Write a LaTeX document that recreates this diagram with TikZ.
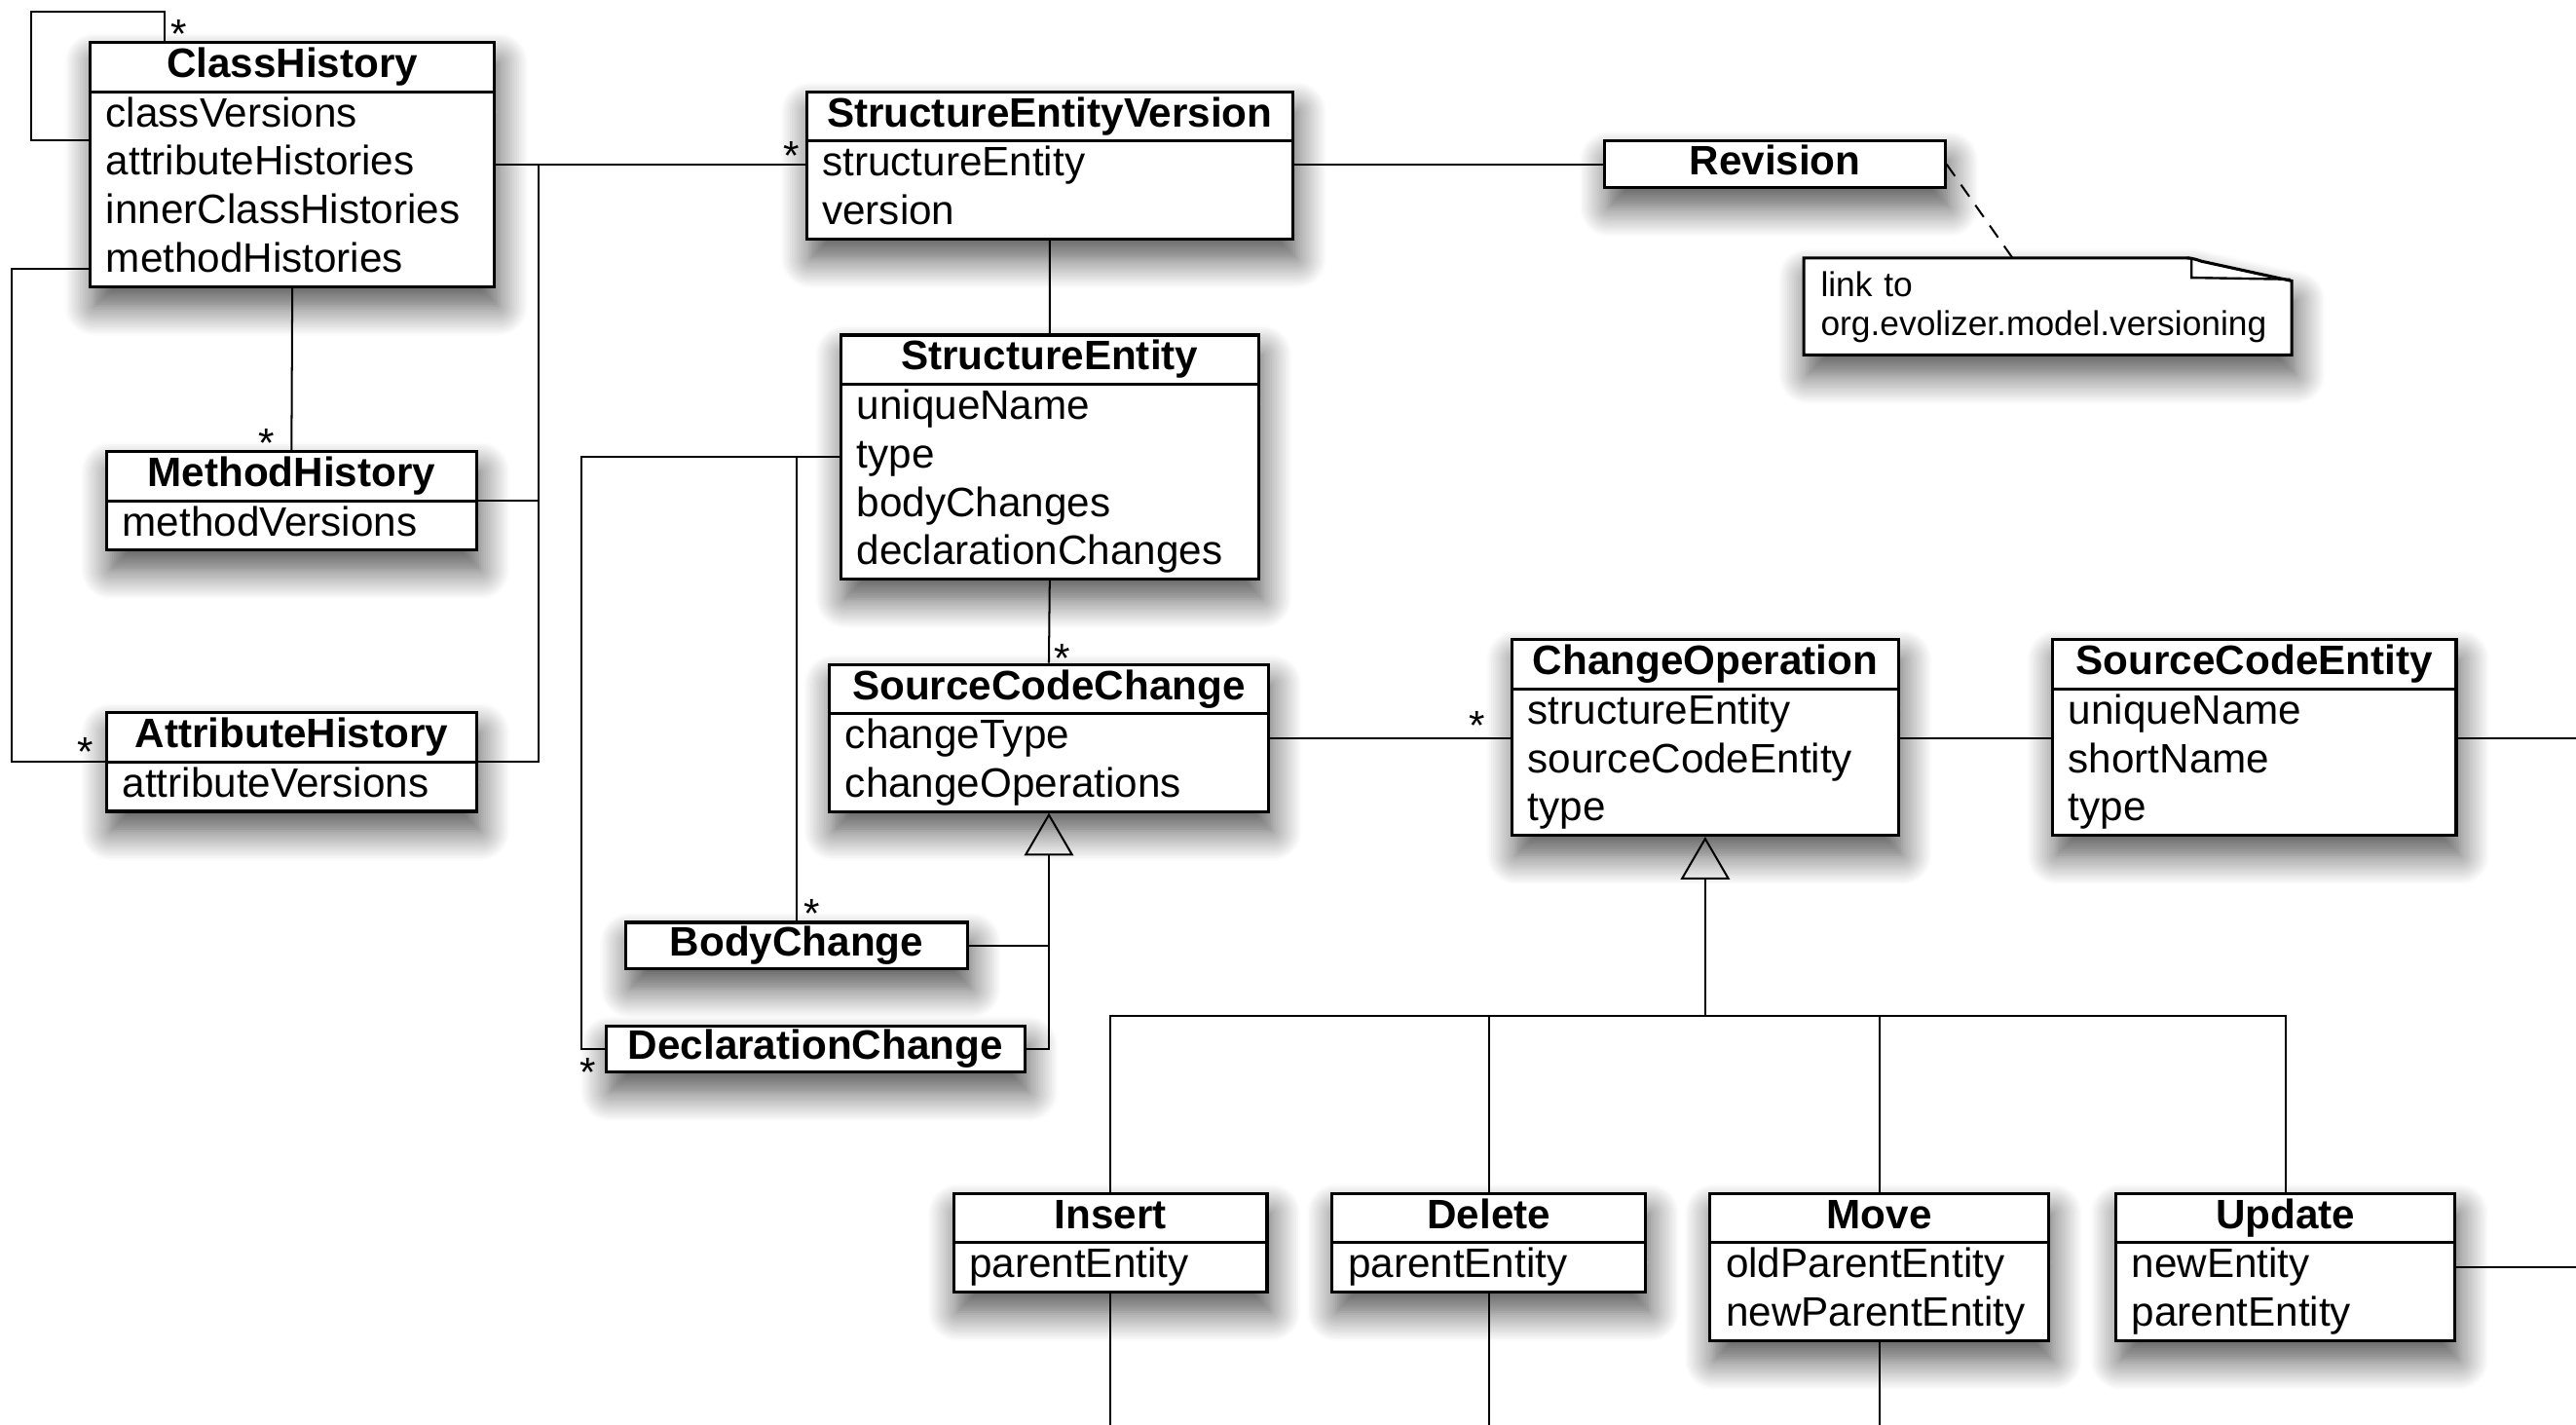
\documentclass[tikz,border=0pt]{standalone}
\usepackage{fontspec}
\setmainfont{Liberation Sans}
\usepackage{tikz}
\usetikzlibrary{arrows.meta, positioning, calc, shapes.multipart, shadows.blur}
\newcommand{\rowstrut}{\rule[-5.5pt]{0pt}{20pt}}
\newcommand{\cname}[1]{\hfill\textbf{#1}\rowstrut\hfill\null}
\tikzset{
  umlshadow/.style={blur shadow={shadow xshift=0.06cm, shadow yshift=-0.3cm,
      shadow blur radius=0.45cm, shadow blur steps=14, shadow opacity=70}},
  cls/.style={rectangle split, rectangle split parts=2, draw, fill=white,
      line width=1.3pt, inner xsep=0.24cm, inner ysep=0pt, align=left,
      anchor=north west, umlshadow},
  namebox/.style={draw, fill=white, line width=1.3pt, inner xsep=0.24cm,
      inner ysep=0pt, align=center, anchor=north west, umlshadow},
  notebox/.style={draw, fill=white, line width=1.3pt, umlshadow},
  notetext/.style={anchor=north west, minimum width=7.425cm, minimum height=1.475cm,
      text width=6.925cm, inner xsep=0.25cm, align=left,
      font=\fontsize{14.9}{16.8}\selectfont},
  assoc/.style={line width=0.85pt},
  inherit/.style={assoc, -{Triangle[open, length=0.65cm, width=0.75cm]}},
  notelink/.style={line width=0.85pt, dash pattern=on 0.22cm off 0.16cm},
  mult/.style={inner sep=0pt, anchor=north},
}
\begin{document}
\begin{tikzpicture}[x=0.025cm, y=-0.025cm,
    every node/.style={font=\fontsize{17.8}{21}\selectfont}]
  \useasboundingbox (0,0) rectangle (1568,867);
  \coordinate (rightedge) at (1568,0);
  \coordinate (bottomedge) at (0,867);

  % history side
  \node[cls, text width=5.67cm] (ch) at (54,25) {\cname{ClassHistory}%
    \nodepart{two}\rowstrut classVersions\\attributeHistories\\innerClassHistories\\methodHistories\rowstrut};
  \node[cls, text width=5.145cm] (mh) at (64,274) {\cname{MethodHistory}%
    \nodepart{two}\rowstrut methodVersions\rowstrut};
  \node[cls, text width=5.145cm] (ah) at (64,433) {\cname{AttributeHistory}%
    \nodepart{two}\rowstrut attributeVersions\rowstrut};

  % versioning
  \node[cls, text width=6.92cm] (sev) at (490,55) {\cname{StructureEntityVersion}%
    \nodepart{two}\rowstrut structureEntity\\version\rowstrut};
  \node[namebox, minimum width=5.175cm] (rev) at (976,85) {\textbf{Revision}\rowstrut};
  \coordinate (notenw) at (1098,157);
  \draw[notebox] (notenw) -- ++(228,0) .. controls +(8,0) .. ++(14,2) coordinate (earstart)
    -- ++(55,12) coordinate (earend) |- ($(notenw)+(0,59)$) -- cycle;
  \draw[line width=1pt] ($(notenw)+(233,0)$) .. controls +(3,0) .. ++(3,3)
    -- ++(0,9) -- ($(earend)+(-1,-1)$);
  \node[notetext] (note) at (notenw) {link to\\org.evolizer.model.versioning};
  \coordinate (notelink) at ($(notenw)+(127,0)$);

  % changes
  \node[cls, text width=5.87cm] (se) at (511,203) {\cname{StructureEntity}%
    \nodepart{two}\rowstrut uniqueName\\type\\bodyChanges\\declarationChanges\rowstrut};
  \node[cls, text width=6.195cm] (scc) at (504,403.5) {\cname{SourceCodeChange}%
    \nodepart{two}\rowstrut changeType\\changeOperations\rowstrut};
  \node[namebox, minimum width=5.2cm] (bc) at (380,560.5) {\textbf{BodyChange}\rowstrut};
  \node[namebox, minimum width=6.37cm] (dc) at (368,623.5) {\textbf{DeclarationChange}\rowstrut};
  \node[cls, text width=5.395cm] (co) at (919.5,388.5) {\cname{ChangeOperation}%
    \nodepart{two}\rowstrut structureEntity\\sourceCodeEntity\\type\rowstrut};
  \node[cls, text width=5.66cm] (sce) at (1248.5,388.5) {\cname{SourceCodeEntity}%
    \nodepart{two}\rowstrut uniqueName\\shortName\\type\rowstrut};

  % operations
  \node[cls, text width=4.29cm] (ins) at (579.5,725.5) {\cname{Insert}%
    \nodepart{two}\rowstrut parentEntity\rowstrut};
  \node[cls, text width=4.29cm] (del) at (810,725.5) {\cname{Delete}%
    \nodepart{two}\rowstrut parentEntity\rowstrut};
  \node[cls, text width=4.67cm] (mov) at (1040,725.5) {\cname{Move}%
    \nodepart{two}\rowstrut oldParentEntity\\newParentEntity\rowstrut};
  \node[cls, text width=4.68cm] (upd) at (1287,725.5) {\cname{Update}%
    \nodepart{two}\rowstrut newEntity\\parentEntity\rowstrut};

  % associations
  \draw[assoc] ($(ch.text split west)+(0,29.5)$) -- ++(-35,0)
    |- ($(ch.north west)+(46,-18)$) -- ($(ch.north west)+(46,0)$);
  \coordinate (chsev) at ($(ch.text split east)+(0,44.5)$);
  \coordinate (histbus) at ($(chsev)+(26,0)$);
  \draw[assoc] (chsev) -- (chsev -| sev.west);
  \draw[assoc] (mh.text split east) -| (histbus);
  \draw[assoc] (ah.text split east) -| (histbus);
  \draw[assoc] (ch.south) -- (mh.north);
  \draw[assoc] ($(ch.text split west)+(0,108)$) -- ++(-47,0) |- (ah.text split west);
  \draw[assoc] (rev.west -| sev.east) -- (rev.west);
  \draw[notelink] (rev.east) -- (notelink);
  \draw[assoc] (sev.south) -- (se.north);
  \draw[assoc] (se.south) -- (scc.north);
  \coordinate (setype) at ($(se.text split west)+(0,44.25)$);
  \draw[assoc] (setype) -- ++(-157,0) |- (dc.west);
  \draw[assoc] (bc.north) |- (setype);
  \draw[assoc] (bc.east) -- (bc.east -| scc.south);
  \draw[inherit] (dc.east) -| (scc.south);
  \coordinate (sccco) at ($(scc.text split east)+(0,14.75)$);
  \draw[assoc] (sccco) -- (sccco -| co.west);
  \draw[assoc] (sccco -| co.east) -- (sccco -| sce.west);
  \draw[assoc] (sccco -| sce.east) -- (sccco -| rightedge);
  \coordinate (opbus) at ($(co.south)+(0,109)$);
  \draw[inherit] (opbus) -- (co.south);
  \draw[assoc] (ins.north) |- (opbus -| upd.north) -- (upd.north);
  \draw[assoc] (del.north) -- (del.north |- opbus);
  \draw[assoc] (mov.north) -- (mov.north |- opbus);
  \draw[assoc] (ins.south) -- (ins.south |- bottomedge);
  \draw[assoc] (del.south) -- (del.south |- bottomedge);
  \draw[assoc] (mov.south) -- (mov.south |- bottomedge);
  \coordinate (updlink) at ($(upd.text split east)+(0,14.75)$);
  \draw[assoc] (updlink) -- (updlink -| rightedge);

  % multiplicities
  \node[mult] (mloop) at (109,12) {*};
  \node[mult] (mmeth) at (162,261) {*};
  \node[mult] (mattr) at (52,449) {*};
  \node[mult] (msev) at (482,86) {*};
  \node[mult] (mscc) at (646.5,392) {*};
  \node[mult] (mbody) at (494.5,547) {*};
  \node[mult] (mdecl) at (358,644) {*};
  \node[mult] (mop) at (899,433) {*};
\end{tikzpicture}
\end{document}
